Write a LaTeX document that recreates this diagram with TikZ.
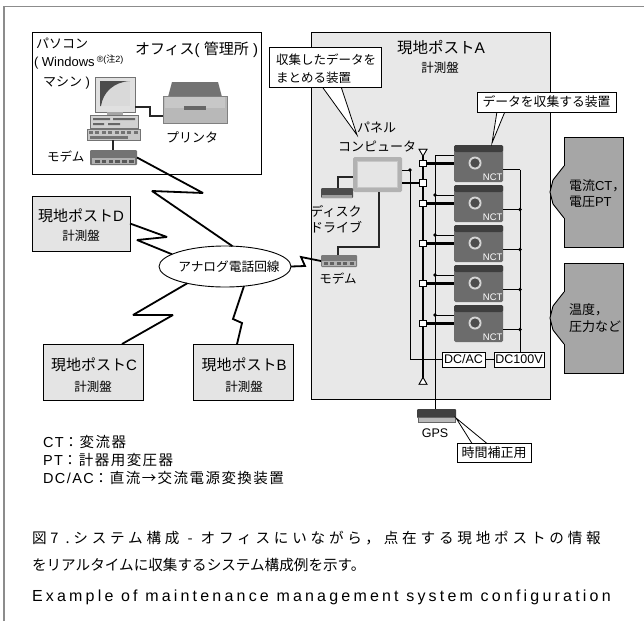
\documentclass[tikz,border=0pt]{standalone}
\usepackage{fontspec}
\setmainfont{Liberation Sans}
\newfontfamily\jpfont{Noto Sans CJK JP}
\newfontfamily\jpcap{Noto Sans CJK JP}[LetterSpace=26]
\newfontfamily\jpleg{Noto Sans CJK JP}[LetterSpace=10]
\newcommand\JP[1]{{\jpfont #1}}
\newcommand\fsize[1]{\fontsize{#1}{#1}\selectfont}
\usetikzlibrary{shapes.geometric}

\definecolor{framegray}{HTML}{8C8C8C}
\definecolor{panelgray}{HTML}{E8E8E8}
\definecolor{postgray}{HTML}{E4E4E4}
\definecolor{sensorgray}{HTML}{A6A6A6}
\definecolor{nctbody}{HTML}{6C6C6C}
\definecolor{nctdark}{HTML}{3E3E3E}
\definecolor{ringgray}{HTML}{D4D4D4}
\definecolor{holegray}{HTML}{4C4C4C}

\begin{document}
\begin{tikzpicture}[x=1pt,y=-1pt,
  every node/.style={inner sep=0pt, outer sep=0pt},
  framerule/.style={draw=framegray, line width=1.4pt},
  boxline/.style={draw=black, line width=0.9pt},
  whitebox/.style={boxline, fill=white},
  postbox/.style={boxline, fill=postgray},
  zig/.style={draw=black, line width=1.8pt, line join=miter, miter limit=3},
  bus/.style={draw=black, line width=2.4pt},
  heavy/.style={draw=black, line width=2.2pt},
  wire/.style={draw=black, line width=0.9pt},
  cable/.style={draw=black!85, line width=1.8pt},
  sq/.style={draw=black, fill=white, line width=0.8pt, minimum size=6.5pt},
  dot/.style={circle, fill=black, minimum size=3.6pt},
  tag/.style={draw=black, fill=white, line width=0.8pt},
  tri/.style={regular polygon, regular polygon sides=3, draw=black, fill=white,
              line width=0.8pt, minimum size=9pt},
  nct/.style={fill=nctbody, rounded corners=1.5pt, minimum width=49pt, minimum height=37pt},
  legend/.style={anchor=west, font=\fsize{14.5}},
]
\useasboundingbox (0,0) rectangle (644,621);
\fill[white] (0,0) rectangle (644,621);

% outer rules
\draw[framerule] (4,621) -- (4,6.5) -- (644,6.5);

% ---------------- office ----------------
\node[whitebox, minimum width=229pt, minimum height=142pt] (office) at (146.5,103) {};
\node[anchor=west, font=\fsize{13}] (pcname1) at (36,43) {\JP{パソコン}};
\node[anchor=west, font=\fsize{13}] (pcname2) at (34,62) {( Windows\,\raisebox{4pt}{\fsize{9}®(\JP{注}2)}};
\node[anchor=west, font=\fsize{13}] (pcname3) at (43,83) {\JP{マシン} )};
\node[anchor=west, font=\fsize{15}] (officetitle) at (135,50) {\JP{オフィス}( \JP{管理所} )};

% personal computer
\node[draw=black!55, fill=black!12, line width=0.6pt, minimum width=40pt, minimum height=35pt] (pc) at (115,94.5) {};
\fill[black!15] (100,81) rectangle (130,106);
\fill[black!70] (100,81) -- (130,81) .. controls (114,82) and (103,92) .. (101,106) -- (100,106) -- cycle;
\fill[black!35] (107,112) rectangle (123,115);
\draw[fill=black!18, draw=black!55, line width=0.6pt] (90,115) rectangle (138,128);
\fill[black!60] (93,118) rectangle (110,120) (113,118) rectangle (135,120) (93,123) rectangle (104,125) (108,123) rectangle (120,125);
\draw[fill=black!22, draw=black!55, line width=0.6pt] (87,129) rectangle (140,140);
\foreach \k in {0,...,7}{\fill[black!55] ({89+6.4*\k},131) rectangle ({93+6.4*\k},134);}
\fill[black!55] (90,136) rectangle (128,138.5);

% printer
\node[fill=black!28, minimum width=64pt, minimum height=27pt] (prt) at (195,109.5) {};
\fill[black!55] (172,82) -- (218,82) -- (222,97) -- (168,97) -- cycle;
\fill[black!22] (165,97) rectangle (225,108);
\fill[black!60] (184,106) rectangle (206,110);
\draw[black!50, line width=0.5pt] (163,96) rectangle (227,123);
\node[font=\fsize{13}] (prtlabel) at (192,137) {\JP{プリンタ}};

% office modem
\node[fill=black!55, rounded corners=1pt, minimum width=47pt, minimum height=15pt] (om) at (113.5,157.5) {};
\fill[black!30] (92,158) rectangle (135,164);
\foreach \k in {0,...,5}{\fill[black!65] ({95+6.8*\k},159.5) rectangle ({99.5+6.8*\k},162.5);}
\node[anchor=west, font=\fsize{12.5}] (omlabel) at (47,157) {\JP{モデム}};

\draw[cable] (pc.east |- 0,107) -- (150,107) -- (150,116) -- (prt.west |- 0,116);
\draw[cable] (113,140) -- (om.north -| 113,0);

% ---------------- site station A ----------------
\node[boxline, fill=panelgray, minimum width=239pt, minimum height=367pt] (stA) at (430.5,215.5) {};
\node[anchor=west, font=\fsize{15.5}] (stAtitle) at (397,48) {\JP{現地ポスト}A};
\node[font=\fsize{12.5}] (stAsub) at (440,68) {\JP{計測盤}};

% panel computer
\node[fill=black!30, rounded corners=1.5pt, minimum width=49pt, minimum height=35pt] (panel) at (377.5,174.5) {};
\draw[fill=black!10, draw=black!22, line width=0.8pt] (357.5,161.5) rectangle (397.5,187.5);
\node[font=\fsize{13}] (panellbl1) at (376.5,128) {\JP{パネル}};
\node[font=\fsize{13}] (panellbl2) at (377,146) {\JP{コンピュータ}};

% disk drive
\node[fill=black!70, rounded corners=1pt, minimum width=32pt, minimum height=10pt] (disk) at (337,193) {};
\fill[black!38] (322,194.5) rectangle (352,198);
\node[font=\fsize{13}] (disklbl1) at (336,211) {\JP{ディスク}};
\node[font=\fsize{13}] (disklbl2) at (336,227) {\JP{ドライブ}};

% station modem
\node[fill=black!52, rounded corners=1pt, minimum width=36pt, minimum height=12pt] (sm) at (339,261) {};
\fill[black!30] (322,261) rectangle (356,266);
\foreach \k in {0,...,4}{\fill[black!62] ({324+6.4*\k},262) rectangle ({328+6.4*\k},265);}
\node[font=\fsize{12.5}] (smlbl) at (338,279) {\JP{モデム}};

\draw[cable] (disk.north -| 338,0) -- (338,177) -- (panel.west |- 0,177);
\draw[cable] (sm.north -| 338,0) -- (338,247) -- (379,247) -- (panel.south -| 379,0);

% bus with antenna terminals
\node[tri, shape border rotate=180] (antT) at (423,151.5) {};
\node[tri] (antB) at (423,382) {};
\draw[bus] (antT.center) -- (antB.center);
\node[tri, shape border rotate=180] at (antT) {};
\node[tri] at (antB) {};

% DC/AC and DC100V
\node[tag, minimum width=43pt, minimum height=15pt, font=\fsize{12.5}] (dcac) at (463.5,359.5) {DC/AC};
\node[tag, minimum width=50pt, minimum height=15pt, font=\fsize{12.5}] (dcv) at (519,359.5) {DC100V};
\draw[wire] (dcac.east) -- (dcv.west);

% GPS receiver
\node[fill=black!75, rounded corners=1pt, minimum width=39pt, minimum height=9pt] (gps) at (436.5,413.5) {};
\draw[fill=black!28, draw=black!60, line width=0.5pt] (418,417.5) rectangle (455,422);
\node[font=\fsize{12.5}] (gpslbl) at (435,433) {GPS};

% NCT units and their links
\foreach \i in {0,...,4}{
  \pgfmathsetmacro\yo{145+40*\i}
  \node[nct] (n\i) at (478.5,{\yo+18.5}) {};
  \fill[nctdark, rounded corners=1.5pt] (454,\yo) rectangle (503,{\yo+7});
  \fill[nctdark] (454,{\yo+4}) rectangle (503,{\yo+6});
  \fill[ringgray] (475,{\yo+18}) circle[radius=6.5pt];
  \fill[holegray] (475,{\yo+18}) circle[radius=4.6pt];
  \node[font=\fsize{9.5}, text=white, anchor=south east] (nl\i) at (502.5,{\yo+36}) {NCT};
  \node[sq] (q\i) at (423,{\yo+18.5}) {};
  \draw[heavy] (q\i.east) -- (q\i.east -| n\i.west);
  \coordinate (tw\i) at (435,{\yo+10});
  \draw[wire] (tw\i) -- (tw\i -| n\i.west);
  \coordinate (rw\i) at (520,{\yo+24.5});
  \draw[wire] (rw\i -| n\i.east) -- (rw\i);
  \ifnum\i>0
    \node[dot] at (tw\i) {};
    \node[dot] at (rw\i) {};
  \fi
}
\draw[wire] (tw0) -- (tw0 |- gps.north);
\draw[wire] (rw0) -- (rw0 |- dcv.north);

% panel computer to bus
\node[sq] (qp) at (423,183) {};
\draw[heavy] (panel.east |- qp) -- (qp.west);
\coordinate (pj) at (410,170);
\draw[wire] (panel.east |- pj) -- (pj) -- (pj |- dcac.west) -- (dcac.west);
\node[dot] at (pj) {};

% callouts
\draw[line width=0.8pt, fill=white] (322,86.5) -- (357,135) -- (341,86.5);
\node[tag, minimum width=112pt, minimum height=40pt] (cal1) at (325,67) {};
\node[anchor=west, font=\fsize{12.5}] (cal1a) at (276,60) {\JP{収集したデータを}};
\node[anchor=west, font=\fsize{12.5}] (cal1b) at (276,78) {\JP{まとめる装置}};

\draw[line width=0.8pt, fill=white] (497,111.5) -- (492,143) -- (505,111.5);
\node[tag, minimum width=139pt, minimum height=20pt, font=\fsize{12.8}] (cal2) at (546.5,102) {\JP{データを収集する装置}};

\draw[line width=0.8pt, fill=white] (472,443.5) -- (gps.south east) -- (487,443.5);
\node[tag, minimum width=74pt, minimum height=19pt, font=\fsize{13}] (cal3) at (494,452.5) {\JP{時間補正用}};

% ---------------- sensor inputs ----------------
\node[fill=sensorgray, minimum width=59pt, minimum height=110pt] (sen1) at (593.5,192) {};
\node[fill=sensorgray, minimum width=59pt, minimum height=110pt] (sen2) at (593.5,318) {};
\foreach \s/\c in {sen1/192, sen2/318}{
  \filldraw[fill=sensorgray, line width=0.9pt]
    (564,{\c-26}) -- (553,{\c-12}) -- (550,\c) -- (553,{\c+12}) -- (564,{\c+26});
  \draw[boxline] (564,{\c-26}) -- (\s.north west) -- (\s.north east) -- (\s.south east) -- (\s.south west) -- (564,{\c+26});
}
\node[anchor=west, font=\fsize{13}] (sen1a) at (569,186) {\JP{電流}CT\JP{，}};
\node[anchor=west, font=\fsize{13}] (sen1b) at (569,202) {\JP{電圧}PT};
\node[anchor=west, font=\fsize{13}] (sen2a) at (569,310) {\JP{温度，}};
\node[anchor=west, font=\fsize{13}] (sen2b) at (569,327) {\JP{圧力など}};

% ---------------- other site stations ----------------
\node[postbox, minimum width=98pt, minimum height=55pt] (postD) at (81,223.5) {};
\node[font=\fsize{15}] (postDa) at (81,215.5) {\JP{現地ポスト}D};
\node[font=\fsize{12.5}] (postDb) at (81,236) {\JP{計測盤}};
\node[postbox, minimum width=100pt, minimum height=56pt] (postC) at (93,372) {};
\node[font=\fsize{15}] (postCa) at (94,365) {\JP{現地ポスト}C};
\node[font=\fsize{12.5}] (postCb) at (93,387) {\JP{計測盤}};
\node[postbox, minimum width=100pt, minimum height=56pt] (postB) at (243,372) {};
\node[font=\fsize{15}] (postBa) at (244,365) {\JP{現地ポスト}B};
\node[font=\fsize{12.5}] (postBb) at (244,387) {\JP{計測盤}};

% analog telephone network
\node[ellipse, draw=black, line width=0.9pt, fill=white, minimum width=132pt, minimum height=41pt] (ana) at (225,266.5) {};
\node[font=\fsize{12.7}] (analbl) at (229,267) {\JP{アナログ電話回線}};

\draw[zig] (om.east) -- (203,193) -- (152,191) -- (ana.70);
\draw[zig] (postD.east) -- (167,237) -- (137,240) -- (ana.167);
\draw[zig] (ana.204) -- (133,315) -- (173,315) -- (postC.44);
\draw[zig] (ana.-46) -- (233,319) -- (242,323) -- (postB.102);
\draw[zig] (ana.east) -- (305,266) -- (301,257) -- (sm.west);

% ---------------- legend ----------------
\node[legend] (lg1) at (43,442) {{\addfontfeature{LetterSpace=10}CT}{\jpleg ：変流器}};
\node[legend] (lg2) at (43,460) {{\addfontfeature{LetterSpace=10}PT}{\jpleg ：計器用変圧器}};
\node[legend] (lg3) at (43,478) {{\addfontfeature{LetterSpace=10}DC/AC}{\jpleg ：直流→交流電源変換装置}};

% ---------------- caption ----------------
\node[anchor=west, font=\fsize{14.6}\jpcap] (cap1) at (32,538)
  {図7 .システム構成\hspace{8pt}-\hspace{8pt}オフィスにいながら，点在する現地ポストの情報};
\node[anchor=west, font=\fsize{14.6}\jpfont] (cap2) at (32,565) {をリアルタイムに収集するシステム構成例を示す。};
\node[anchor=west, font=\fsize{16}\addfontfeature{LetterSpace=20}] (cap3) at (32,597) {Example of maintenance management system configuration};
\end{tikzpicture}
\end{document}
